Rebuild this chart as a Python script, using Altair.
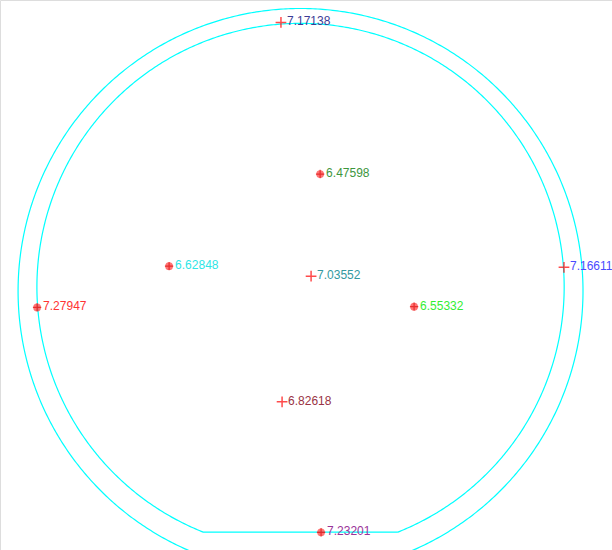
import altair as alt
import numpy as np
import pandas as pd

# Measurement sites, in mm from the wafer centre
site_x = [-10.4, 10.4, -69.8, 5.6, -139.9, 60.3, 139.9, -9.8, 10.9]
site_y = [140.5, 60.0, 11.1, 5.8, -10.8, -10.4, 10.5, -60.9, -130.2]
site_value = [7.17138, 6.47598, 6.62848, 7.03552, 7.27947, 6.55332, 7.16611, 6.82618, 7.23201]
site_marker = ["plus", "dot", "dot", "plus", "dot", "dot", "plus", "plus", "dot"]
label_colors = ["#3c3c96", "#3d963d", "#2ee6e6", "#3399a0", "#ff3333",
                "#33ee33", "#4a4aff", "#993344", "#993399"]

# Wafer outline: outer edge and the edge-exclusion ring with its flat
OUTER_R = 150.0
OUTER_CY = -2.1
INNER_R = 140.0
FLAT_Y = -130.1

X_DOMAIN = [-159.6, 165.4]
Y_DOMAIN = [-139.6, 152.4]

sites = pd.DataFrame({
    "x": site_x,
    "y": site_y,
    "value": site_value,
    "marker": site_marker,
    "label": [f"{v:.5f}" for v in site_value],
})

# outline paths
rows = []
t = np.linspace(0, 2 * np.pi, 721)
for i, a in enumerate(t):
    rows.append({"ring": "outer", "i": i, "x": OUTER_R * np.cos(a), "y": OUTER_CY + OUTER_R * np.sin(a)})
half = np.arccos(-FLAT_Y / INNER_R)
t_in = np.linspace(-np.pi / 2 + half, 3 * np.pi / 2 - half, 701)
for i, a in enumerate(t_in):
    rows.append({"ring": "inner", "i": i, "x": INNER_R * np.cos(a), "y": INNER_R * np.sin(a)})
rows.append({"ring": "inner", "i": len(t_in), "x": INNER_R * np.cos(t_in[0]), "y": INNER_R * np.sin(t_in[0])})
outline = pd.DataFrame(rows)

xs = alt.Scale(domain=X_DOMAIN, nice=False, zero=False)
ys = alt.Scale(domain=Y_DOMAIN, nice=False, zero=False)

X = alt.X("x:Q", scale=xs, axis=None)
Y = alt.Y("y:Q", scale=ys, axis=None)

rings = alt.Chart(outline).mark_line(color="#00ffff", strokeWidth=1.2, clip=True).encode(
    x=X, y=Y, detail="ring:N", order="i:Q"
)

dots = alt.Chart(sites).transform_filter(alt.datum.marker == "dot").mark_point(
    shape="circle", filled=True, color="#ff4444", opacity=0.75, size=60
).encode(x=X, y=Y)

cross_big = alt.Chart(sites).transform_filter(alt.datum.marker == "plus").mark_point(
    shape="M-1,0L1,0M0,-1L0,1", color="#ff0000", strokeWidth=1.5, size=115, filled=False
).encode(x=X, y=Y)

cross_small = alt.Chart(sites).transform_filter(alt.datum.marker == "dot").mark_point(
    shape="M-1,0L1,0M0,-1L0,1", color="#dd1111", strokeWidth=1.2, size=70, filled=False
).encode(x=X, y=Y)

labels = alt.Chart(sites).mark_text(
    align="left", baseline="middle", dx=6, dy=-1, font="Liberation Sans", fontSize=12
).encode(
    x=X, y=Y, text="label:N",
    color=alt.Color("label:N", scale=alt.Scale(domain=sites["label"].tolist(), range=label_colors), legend=None),
)

chart = alt.layer(rings, dots, cross_small, cross_big, labels).properties(
    width=612, height=550, padding=0, autosize=alt.AutoSizeParams(type="none")
).configure_view(stroke=None).configure(background="white")

chart.save("out.html", embed_options={"renderer": "svg", "actions": False})
